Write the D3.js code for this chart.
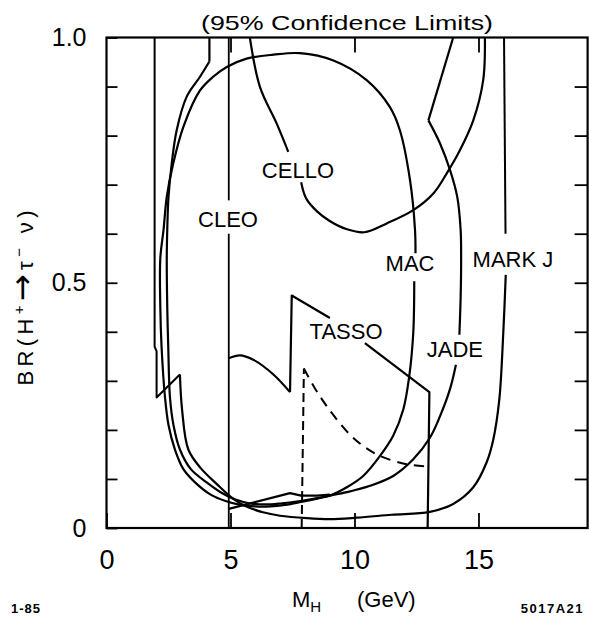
<!DOCTYPE html>
<html>
<head>
<meta charset="utf-8">
<script src="https://cdn.jsdelivr.net/npm/d3@7"></script>
<style>
  html, body { margin: 0; padding: 0; background: #fff; }
  svg { display: block; }
  text { font-family: "Liberation Sans", Arial, sans-serif; fill: #000; }
</style>
</head>
<body>
<svg id="chart" width="589" height="618"></svg>
<script>
// Axis ticks and labels
const xTicks = [0, 5, 10, 15];
const yTicks = [0, 0.1, 0.2, 0.3, 0.4, 0.5, 0.6, 0.7, 0.8, 0.9, 1.0];
const yTickLabels = [[0, "0"], [0.5, "0.5"], [1.0, "1.0"]];

// Exclusion contours, [M_H (GeV), BR] pairs
const cleoUpper = [[4.93, 1.0], [4.93, 0.668]];
const cleoLower = [[4.93, 0.600], [4.93, 0.0]];

const celloLeft = [[5.78, 1.0], [6.19, 0.899], [6.86, 0.825], [7.33, 0.767]];
const celloRight = [[7.85, 0.705], [8.05, 0.672], [8.5, 0.645], [9.0, 0.626], [9.7, 0.609],
  [10.4, 0.603], [11.3, 0.621], [12.37, 0.648], [13.18, 0.682], [13.72, 0.723],
  [14.25, 0.770], [14.79, 0.831], [15.19, 0.913], [15.26, 1.0]];

const macLoop = [[12.46, 0.56], [12.44, 0.608], [12.24, 0.709], [11.83, 0.811], [11.43, 0.858],
  [10.49, 0.913], [9.15, 0.953], [7.8, 0.968], [6.73, 0.965], [5.65, 0.957], [4.85, 0.94],
  [4.3, 0.92], [3.77, 0.892], [3.1, 0.818], [2.69, 0.743], [2.43, 0.675], [2.3, 0.608],
  [2.17, 0.55], [2.17, 0.45], [2.22, 0.37], [2.36, 0.266], [2.5, 0.21], [2.76, 0.16],
  [3.1, 0.12], [3.57, 0.093], [4.2, 0.068], [4.8, 0.055], [5.4, 0.047], [6.0, 0.044],
  [6.6, 0.044], [7.2, 0.047], [7.84, 0.053], [8.5, 0.06], [9.01, 0.066], [9.69, 0.083],
  [10.35, 0.106], [11.03, 0.147], [11.56, 0.188], [11.97, 0.242], [12.21, 0.31],
  [12.37, 0.398], [12.41, 0.503]];

const jadeArm = [[4.15, 1.0], [4.15, 0.951]];
const jadeLoop = [[4.15, 0.951], [3.77, 0.92], [3.23, 0.879], [2.83, 0.811], [2.63, 0.743],
  [2.5, 0.675], [2.45, 0.608], [2.43, 0.55], [2.45, 0.45], [2.49, 0.37], [2.56, 0.266],
  [2.7, 0.21], [2.96, 0.16], [3.4, 0.12], [4.04, 0.093], [4.6, 0.073], [5.2, 0.058],
  [5.8, 0.05], [6.4, 0.048], [7.0, 0.05], [7.8, 0.055], [8.5, 0.061], [9.01, 0.066],
  [9.69, 0.073], [10.63, 0.086], [11.56, 0.106], [12.37, 0.14], [13.04, 0.184],
  [13.45, 0.228], [13.85, 0.283], [14.09, 0.333]];
const jadeRight = [[14.23, 0.394], [14.28, 0.47], [14.3, 0.55], [14.28, 0.608], [14.14, 0.676],
  [13.85, 0.73], [13.45, 0.784], [12.98, 0.831]];
const jadeTop = [[12.98, 0.831], [13.98, 1.0]];

const markjStep = [[1.94, 1.0], [1.94, 0.37], [2.02, 0.36], [2.02, 0.266], [2.96, 0.313]];
const markjLoop = [[2.96, 0.313], [3.05, 0.24], [3.3, 0.16], [3.8, 0.122], [4.44, 0.09],
  [5.1, 0.06], [5.6, 0.045], [6.31, 0.032], [7.0, 0.025], [8.07, 0.02], [9.01, 0.018],
  [10.09, 0.021], [11.5, 0.027], [13.04, 0.033], [13.98, 0.049], [14.79, 0.083],
  [15.33, 0.134], [15.6, 0.181], [15.84, 0.262], [16.0, 0.398], [16.1, 0.516]];
const markjTop = [[16.09, 0.6], [16.03, 1.0]];

const tassoHump = [[4.93, 0.346], [5.38, 0.352], [5.92, 0.343], [6.73, 0.313], [7.4, 0.277]];
const tassoStep = [[7.4, 0.277], [7.47, 0.474], [9.01, 0.428]];
const tassoSlope = [[10.42, 0.377], [13.02, 0.277], [12.95, 0.0]];
const tassoFloor = [[4.93, 0.039], [7.4, 0.071], [7.85, 0.066], [8.5, 0.066], [9.01, 0.068]];
const tassoAltRise = [[7.87, 0.0], [7.96, 0.325]];
const tassoAlt = [[7.96, 0.325], [8.4, 0.285], [9.0, 0.24], [9.82, 0.19], [10.36, 0.167],
  [11.03, 0.147], [12.1, 0.13], [13.02, 0.125]];

const curveLabels = ["CELLO", "CLEO", "MAC", "MARK J", "JADE", "TASSO"];

const svg = d3.select("#chart");
const x = d3.scaleLinear().domain([0, 19.4]).range([106.5, 587.6]);
const y = d3.scaleLinear().domain([0, 1]).range([528, 37.5]);

// Frame
svg.append("rect")
  .attr("x", x(0)).attr("y", y(1))
  .attr("width", x(19.4) - x(0)).attr("height", y(0) - y(1))
  .attr("fill", "none").attr("stroke", "#000").attr("stroke-width", 2.2);

function styleAxis(g, fontSize) {
  g.select(".domain").remove();
  g.selectAll(".tick line").attr("stroke", "#000").attr("stroke-width", 1.8);
  g.selectAll(".tick text").attr("font-size", fontSize)
    .attr("font-family", "Liberation Sans, Arial, sans-serif").attr("fill", "#000");
}

// Bottom axis with labels, ticks pointing into the frame
svg.append("g").attr("transform", `translate(0,${y(0)})`)
  .call(d3.axisBottom(x).tickValues(xTicks).tickSize(-15).tickPadding(22).tickFormat(d3.format("d")))
  .call(g => styleAxis(g, 27));

// Top axis ticks
svg.append("g").attr("transform", `translate(0,${y(1)})`)
  .call(d3.axisTop(x).tickValues(xTicks.filter(d => d > 0)).tickSize(-15).tickFormat(""))
  .call(g => styleAxis(g, 0));

// Left axis
const labelMap = new Map(yTickLabels);
svg.append("g").attr("transform", `translate(${x(0)},0)`)
  .call(d3.axisLeft(y).tickValues(yTicks).tickSize(-11).tickPadding(20)
    .tickFormat(d => labelMap.has(d) ? labelMap.get(d) : ""))
  .call(g => styleAxis(g, 25));

// Right axis ticks
svg.append("g").attr("transform", `translate(${x(19.4)},0)`)
  .call(d3.axisRight(y).tickValues(yTicks.filter(d => d > 0 && d < 1)).tickSize(-13).tickFormat(""))
  .call(g => styleAxis(g, 0));

// Contours
const smooth = d3.line().x(d => x(d[0])).y(d => y(d[1])).curve(d3.curveCatmullRom.alpha(0.5));
const straight = d3.line().x(d => x(d[0])).y(d => y(d[1]));

function draw(data, gen, width, dash) {
  svg.append("path").attr("d", gen(data))
    .attr("fill", "none").attr("stroke", "#000")
    .attr("stroke-width", width).attr("stroke-linejoin", "round")
    .attr("stroke-dasharray", dash || null);
}

draw(cleoUpper, straight, 1.8);
draw(cleoLower, straight, 1.8);
draw(celloLeft, smooth, 2.2);
draw(celloRight, smooth, 2.2);
draw(macLoop, smooth, 2.2);
draw(jadeArm, straight, 2.2);
draw(jadeLoop, smooth, 2.2);
draw(jadeRight, smooth, 2.2);
draw(jadeTop, straight, 2.2);
draw(markjStep, straight, 2);
draw(markjLoop, smooth, 2.2);
draw(markjTop, straight, 2);
draw(tassoHump, smooth, 2.2);
draw(tassoStep, straight, 2.2);
draw(tassoSlope, straight, 2.2);
draw(tassoFloor, straight, 2.2);
draw(tassoAltRise, straight, 2, "9,5");
draw(tassoAlt, smooth, 2, "10,7");

// Experiment labels placed on their contours
const labelAt = {
  "CELLO": [7.72, 0.730], "CLEO": [4.90, 0.630], "MAC": [12.24, 0.540],
  "MARK J": [16.39, 0.548], "JADE": [14.05, 0.365], "TASSO": [9.66, 0.402]
};
svg.append("g").selectAll("text").data(curveLabels).join("text")
  .attr("x", d => x(labelAt[d][0]))
  .attr("y", d => y(labelAt[d][1]))
  .attr("dy", "0.36em")
  .attr("text-anchor", "middle")
  .attr("font-size", 22)
  .text(d => d);

// Title
svg.append("text").attr("x", 347).attr("y", 30)
  .attr("text-anchor", "middle").attr("font-size", 21)
  .attr("textLength", 292).attr("lengthAdjust", "spacingAndGlyphs")
  .text("(95% Confidence Limits)");

// X axis title
const xt = svg.append("text").attr("x", 292).attr("y", 607).attr("font-size", 22);
xt.append("tspan").text("M");
xt.append("tspan").attr("font-size", 15).attr("dy", 5).text("H");
svg.append("text").attr("x", 357).attr("y", 607).attr("font-size", 22).text("(GeV)");

// Y axis title
const yt = svg.append("text")
  .attr("transform", "translate(33,298) rotate(-90)")
  .attr("text-anchor", "middle").attr("font-size", 22)
  .attr("textLength", 175).attr("lengthAdjust", "spacing");
yt.append("tspan").text("BR(H");
yt.append("tspan").attr("font-size", 15).attr("dy", -9).text("+");
yt.append("tspan").attr("dy", 9).attr("font-size", 32).attr("font-family", "DejaVu Sans").text("\u2192");
yt.append("tspan").text("\u03C4");
yt.append("tspan").attr("font-size", 15).attr("dy", -9).text("\u2212");
yt.append("tspan").attr("dy", 9).text(" \u03BD)");

// Figure codes
svg.append("text").attr("x", 11).attr("y", 613).attr("font-size", 13)
  .attr("font-weight", "bold").attr("letter-spacing", 1).text("1-85");
svg.append("text").attr("x", 584).attr("y", 613).attr("font-size", 13)
  .attr("font-weight", "bold").attr("letter-spacing", 1.5)
  .attr("text-anchor", "end").text("5017A21");
</script>
</body>
</html>
